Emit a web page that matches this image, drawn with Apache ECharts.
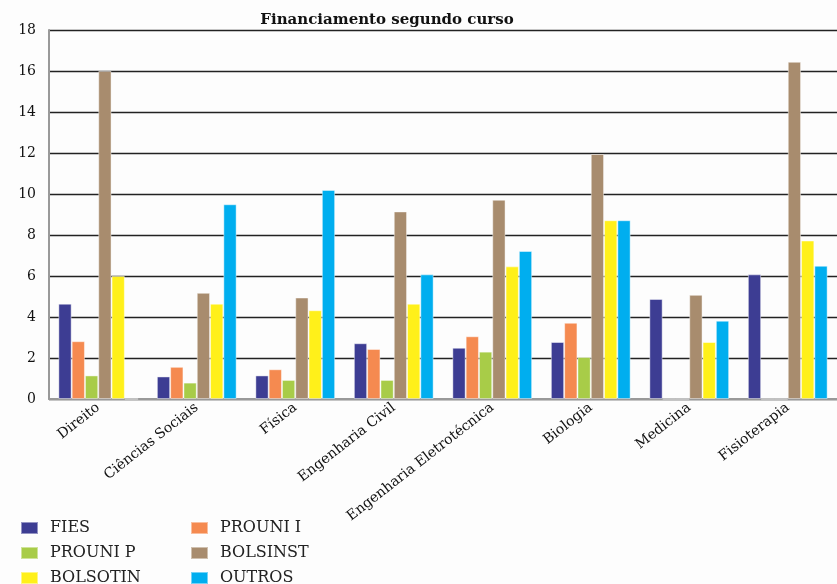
<!DOCTYPE html>
<html><head><meta charset="utf-8">
<script src="https://cdn.jsdelivr.net/npm/echarts@6/dist/echarts.min.js"></script>
<style>html,body{margin:0;padding:0;background:#fdfdfd}#c{width:837px;height:584px}</style>
</head><body><div id="c"></div>
<script>
var categories = ['Direito','Ciências Sociais','Física','Engenharia Civil','Engenharia Eletrotécnica','Biologia','Medicina','Fisioterapia'];
var seriesNames = ['FIES','PROUNI I','PROUNI P','BOLSINST','BOLSOTIN','OUTROS'];
var fies     = [4.65, 1.1, 1.15, 2.72, 2.5, 2.78, 4.88, 6.08];
var prouniI  = [2.82, 1.57, 1.45, 2.44, 3.06, 3.72, 0, 0];
var prouniP  = [1.15, 0.8, 0.93, 0.93, 2.31, 2.05, 0, 0];
var bolsinst = [16.0, 5.18, 4.95, 9.15, 9.72, 11.95, 5.08, 16.45];
var bolsotin = [6.0, 4.65, 4.33, 4.65, 6.47, 8.72, 2.78, 7.73];
var outros   = [0, 9.5, 10.2, 6.08, 7.22, 8.72, 3.82, 6.5];
var yTicks = [0,2,4,6,8,10,12,14,16,18];

var values = [fies, prouniI, prouniP, bolsinst, bolsotin, outros];
var colors = ['#3d3d93','#f58a50','#a8cc48','#a88c6e','#fff01a','#00aeef'];
var serif = 'DejaVu Serif';

function legendCfg(names, left) {
  return {data: names, orient: 'vertical', left: left, top: 520, padding: 0,
    height: 70, itemWidth: 17, itemHeight: 12, itemGap: 9, icon: 'rect',
    formatter: function(n){ return '{p|}' + n; },
    textStyle: {fontFamily: serif, fontSize: 16, lineHeight: 14, color: '#222',
      rich: {p: {width: 7, fontFamily: serif, fontSize: 16, lineHeight: 14}}}};
}

var chart = echarts.init(document.getElementById('c'));
chart.setOption({
  backgroundColor: '#fdfdfd',
  animation: false,
  title: {
    text: 'Financiamento segundo curso',
    left: 382, top: 8, textAlign: 'center',
    textStyle: {fontFamily: serif, fontWeight: 'bold', fontSize: 15, color: '#111'}
  },
  legend: [
    legendCfg(['FIES','PROUNI P','BOLSOTIN'], 20),
    legendCfg(['PROUNI I','BOLSINST','OUTROS'], 190)
  ],
  grid: {left: 49, right: -12, top: 30, bottom: 185},
  xAxis: {type: 'category', data: categories,
    axisLine: {lineStyle: {color: '#999', width: 2}},
    axisTick: {show: false},
    axisLabel: {rotate: 38, margin: 7, interval: 0, fontFamily: serif, fontSize: 14, color: '#111'}},
  yAxis: {type: 'value', min: 0, max: 18, interval: 2,
    axisLine: {show: true, lineStyle: {color: '#999', width: 2}},
    axisTick: {show: false},
    axisLabel: {margin: 13, fontFamily: serif, fontSize: 14, color: '#111',
      formatter: function(v){ return yTicks.indexOf(v) >= 0 ? String(v) : ''; }},
    splitLine: {lineStyle: {color: '#222', width: 1.3}}},
  series: seriesNames.map(function(n, i){
    return {
      name: n, type: 'bar',
      data: values[i], barGap: '0%', barCategoryGap: '19%',
      itemStyle: {color: colors[i], borderColor: 'rgba(255,255,255,0.45)', borderWidth: 1}
    };
  })
});
</script></body></html>
